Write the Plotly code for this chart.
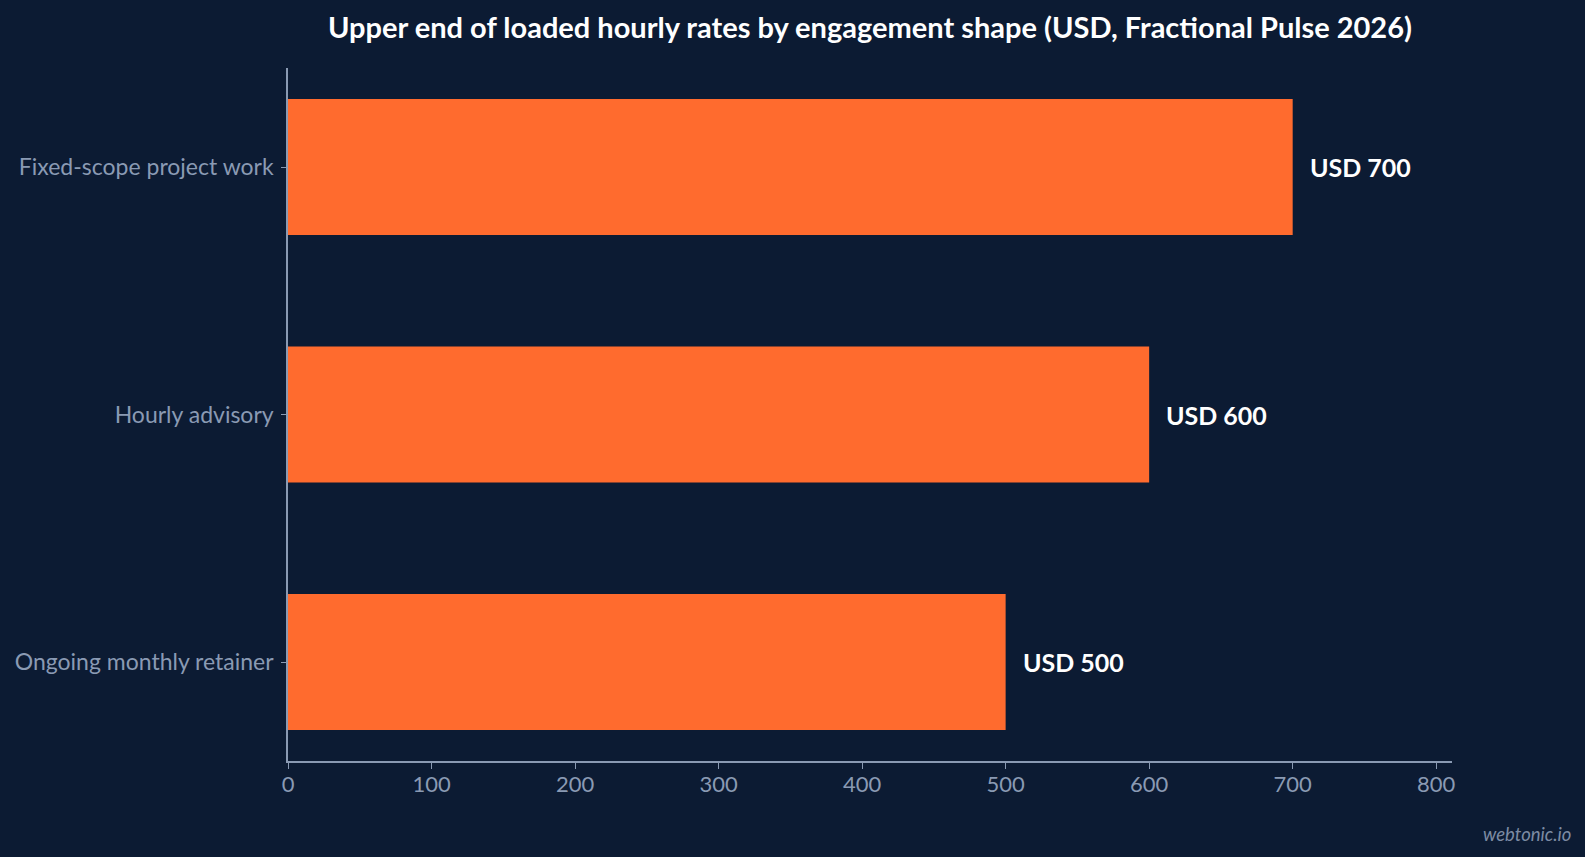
import plotly.graph_objects as go

# Data
categories = ["Fixed-scope project work", "Hourly advisory", "Ongoing monthly retainer"]
upper_rates = [700, 600, 500]
rate_labels = ["USD 700", "USD 600", "USD 500"]
x_ticks = [0, 100, 200, 300, 400, 500, 600, 700, 800]

BG = "#0c1b33"
BAR = "#ff6b2e"
MUTED = "#8a9ab3"
FONT = "Lato, 'Noto Sans', sans-serif"

fig = go.Figure()

fig.add_trace(
    go.Bar(
        x=upper_rates,
        y=categories,
        orientation="h",
        width=0.55,
        marker=dict(color=BAR, line=dict(width=0)),
        hoverinfo="skip",
    )
)

# value labels just past the end of each bar
for cat, val, lab in zip(categories, upper_rates, rate_labels):
    fig.add_annotation(
        x=val,
        y=cat,
        text=lab,
        showarrow=False,
        xanchor="left",
        xshift=15,
        font=dict(family=FONT, size=25, color="#ffffff", weight="bold"),
    )

fig.add_annotation(
    text="<i>webtonic.io</i>",
    xref="paper",
    yref="paper",
    x=1.1036,
    y=-0.105,
    xanchor="right",
    yanchor="middle",
    showarrow=False,
    font=dict(family=FONT, size=18.5, color="#7d8ba3"),
)

fig.update_layout(
    width=1585,
    height=857,
    paper_bgcolor=BG,
    plot_bgcolor=BG,
    margin=dict(l=288, r=133, t=68, b=96),
    showlegend=False,
    title=dict(
        text="<b>Upper end of loaded hourly rates by engagement shape (USD, Fractional Pulse 2026)</b>",
        x=0.5,
        xref="paper",
        xanchor="center",
        y=0.968,
        yanchor="middle",
        font=dict(family=FONT, size=29, color="#ffffff"),
    ),
    font=dict(family=FONT),
)

fig.update_xaxes(
    range=[0, 811],
    tickvals=x_ticks,
    showgrid=False,
    zeroline=False,
    showline=True,
    linecolor=MUTED,
    linewidth=1.5,
    ticks="outside",
    ticklen=6,
    tickcolor=MUTED,
    ticklabelstandoff=-3,
    tickfont=dict(family=FONT, size=22, color=MUTED),
)

fig.update_yaxes(
    categoryorder="array",
    categoryarray=categories,
    range=[2.4, -0.4],
    showgrid=False,
    zeroline=False,
    showline=True,
    linecolor=MUTED,
    linewidth=1.5,
    ticks="outside",
    ticklen=5,
    tickcolor=MUTED,
    ticklabelstandoff=3,
    tickfont=dict(family=FONT, size=23, color=MUTED),
)

fig.write_html(
    "out.html",
    config={"displayModeBar": False},
    post_script="document.body.style.margin='0';document.body.style.overflow='hidden';",
)
